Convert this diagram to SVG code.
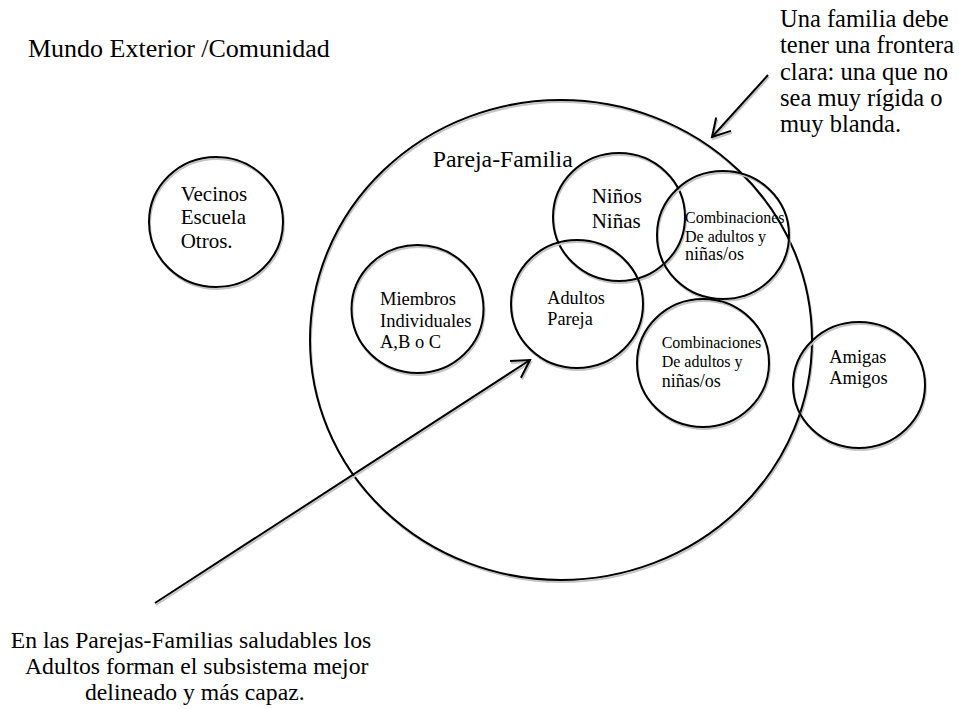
<svg xmlns="http://www.w3.org/2000/svg" width="959" height="709" viewBox="0 0 959 709">
  <style>
    text { font-family: "Liberation Serif", "Times New Roman", serif; fill: #000; }
    .ring { fill: none; stroke: #000; stroke-width: 2; }
    .shade { fill: none; stroke: #c4c4c4; stroke-width: 2; }
    .conn { fill: none; stroke: #000; stroke-width: 2; }
    .conn-shade { fill: none; stroke: #c4c4c4; stroke-width: 2; }
  </style>
  <defs>
    <marker id="open-head" markerUnits="userSpaceOnUse" markerWidth="24" markerHeight="24" viewBox="-20 -12 24 24" refX="0" refY="0" orient="auto" overflow="visible">
      <path d="M -17.3 -10 L 0 0 L -17.3 10" fill="none" stroke="#000" stroke-width="2"/>
    </marker>
    <marker id="open-head-shade" markerUnits="userSpaceOnUse" markerWidth="24" markerHeight="24" viewBox="-20 -12 24 24" refX="0" refY="0" orient="auto" overflow="visible">
      <path d="M -17.3 -10 L 0 0 L -17.3 10" fill="none" stroke="#c4c4c4" stroke-width="2"/>
    </marker>
  </defs>

  <rect width="959" height="709" fill="#fff"/>

  <!-- free labels -->
  <g id="label-mundo">
    <text x="28" y="57" font-size="26">Mundo Exterior /Comunidad</text>
  </g>
  <g id="label-frontera" font-size="24.5">
    <text x="780" y="27">Una familia debe</text>
    <text x="780" y="53">tener una frontera</text>
    <text x="780" y="79.5">clara: una que no</text>
    <text x="780" y="106">sea muy rígida o</text>
    <text x="780" y="132">muy blanda.</text>
  </g>
  <g id="label-adultos-nota" font-size="23.7">
    <text x="10.7" y="648">En las Parejas-Familias saludables los</text>
    <text x="25" y="674">Adultos forman el subsistema mejor</text>
    <text x="85" y="700">delineado y más capaz.</text>
  </g>

  <!-- family boundary -->
  <g id="pareja-familia">
    <ellipse class="shade" cx="562" cy="342" rx="251" ry="240"/>
    <ellipse class="ring" cx="561" cy="340" rx="251" ry="240"/>
    <text x="432.7" y="166.7" font-size="23.8">Pareja-Familia</text>
  </g>

  <g id="vecinos">
    <ellipse class="shade" cx="217" cy="224" rx="67" ry="65"/>
    <ellipse class="ring" cx="216" cy="222" rx="67" ry="65"/>
    <text font-size="21">
      <tspan x="180.7" y="200.7">Vecinos</tspan>
      <tspan x="180.7" y="224">Escuela</tspan>
      <tspan x="180.7" y="248.3">Otros.</tspan>
    </text>
  </g>

  <g id="ninos">
    <ellipse class="shade" cx="620" cy="219" rx="66" ry="64"/>
    <ellipse class="ring" cx="619" cy="217" rx="66" ry="64"/>
    <text font-size="21">
      <tspan x="591.7" y="203.3">Niños</tspan>
      <tspan x="591.7" y="228.3">Niñas</tspan>
    </text>
  </g>

  <g id="combinaciones-1">
    <ellipse class="shade" cx="724" cy="237" rx="66" ry="64"/>
    <ellipse class="ring" cx="723" cy="235" rx="66" ry="64"/>
    <text x="685" y="223.3" font-size="16">Combinaciones</text>
    <text x="685" y="241.7" font-size="16">De adultos y</text>
    <text x="685" y="260" font-size="18">niñas/os</text>
  </g>

  <g id="adultos">
    <ellipse class="shade" cx="578" cy="306" rx="66" ry="64"/>
    <ellipse class="ring" cx="577" cy="304" rx="66" ry="64"/>
    <text font-size="18.2">
      <tspan x="547.3" y="304">Adultos</tspan>
      <tspan x="547.3" y="325">Pareja</tspan>
    </text>
  </g>

  <g id="miembros">
    <ellipse class="shade" cx="418.5" cy="311" rx="66" ry="64"/>
    <ellipse class="ring" cx="417.5" cy="309" rx="66" ry="64"/>
    <text font-size="18.5">
      <tspan x="380" y="305">Miembros</tspan>
      <tspan x="380" y="326.7">Individuales</tspan>
      <tspan x="380" y="348.3">A,B o C</tspan>
    </text>
  </g>

  <g id="combinaciones-2">
    <ellipse class="shade" cx="704" cy="365" rx="66" ry="64"/>
    <ellipse class="ring" cx="703" cy="363" rx="66" ry="64"/>
    <text x="661.7" y="348.3" font-size="16">Combinaciones</text>
    <text x="661.7" y="367.3" font-size="16">De adultos y</text>
    <text x="661.7" y="387.3" font-size="18">niñas/os</text>
  </g>

  <g id="amigas">
    <ellipse class="shade" cx="860" cy="387" rx="66" ry="63"/>
    <ellipse class="ring" cx="859" cy="385" rx="66" ry="63"/>
    <text font-size="18.4">
      <tspan x="829.3" y="363.3">Amigas</tspan>
      <tspan x="829.3" y="384">Amigos</tspan>
    </text>
  </g>

  <!-- pointers -->
  <g id="connectors">
    <line class="conn-shade" x1="156" y1="605" x2="531" y2="362" marker-end="url(#open-head-shade)"/>
    <line class="conn" x1="155" y1="603" x2="530" y2="360" marker-end="url(#open-head)"/>
    <line class="conn-shade" x1="769" y1="77" x2="713" y2="139" marker-end="url(#open-head-shade)"/>
    <line class="conn" x1="768" y1="75" x2="712" y2="137" marker-end="url(#open-head)"/>
  </g>
</svg>
